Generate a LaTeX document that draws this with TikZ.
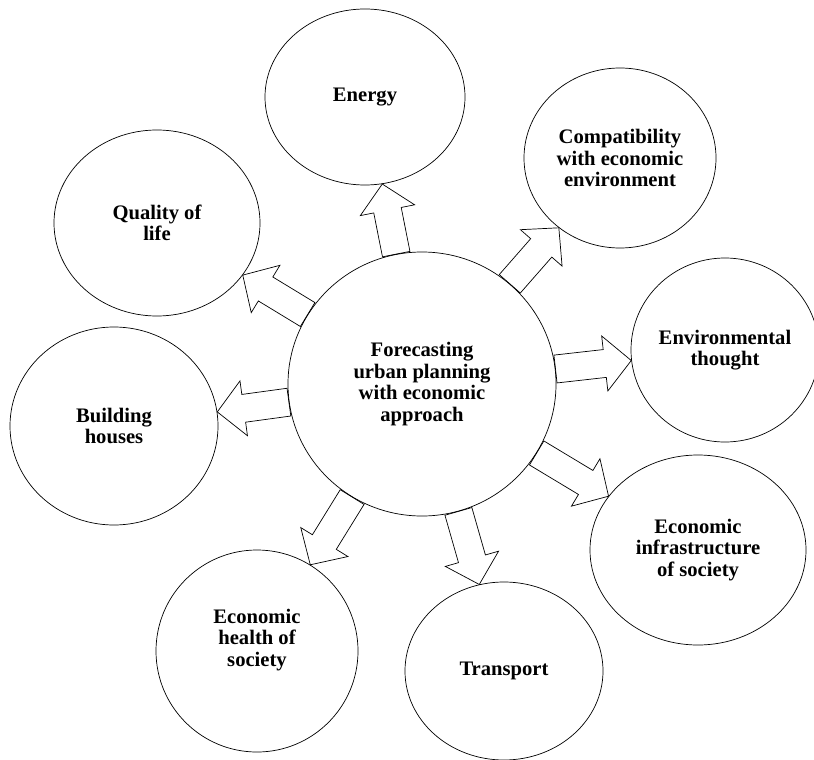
\documentclass[tikz,border=0pt]{standalone}
\usepackage{fontspec}
\setmainfont{Liberation Serif}
\usetikzlibrary{shapes.geometric,calc}

\tikzset{
  bubble/.style={draw, ellipse, inner sep=0pt, align=center, line width=0.6pt,
    font=\fontsize{17.6}{18.4}\selectfont\bfseries},
  blockarr/.style={draw, line width=0.6pt, line join=miter},
}
\newcommand\shaftw{0.42cm}
\newcommand\headx{0.41cm}
\newcommand\headl{0.8cm}

\newcommand\blockarrow[2]{%
  \path (#1) -- (#2) coordinate[pos=0] (#1-#2-s) coordinate[pos=1] (#1-#2-e);
  \draw[blockarr] let \p1=($(#1-#2-e)-(#1-#2-s)$), \n1={atan2(\y1,\x1)}, \n2={veclen(\x1,\y1)} in
    ($(#1-#2-s)+(\n1+90:\shaftw)$) -- ++(\n1:{\n2*1pt-\headl}) -- ++(\n1+90:\headx) -- (#1-#2-e)
    -- ($(#1-#2-e)+(\n1:-\headl)+(\n1-90:{\shaftw+\headx})$) -- ++(\n1+90:\headx)
    -- ($(#1-#2-s)+(\n1-90:\shaftw)$) -- cycle;
}

\begin{document}
\begin{tikzpicture}[x=0.03cm, y=-0.03cm]
 \useasboundingbox (0,0) rectangle (814,760);

 \node[bubble, minimum width=8.04cm, minimum height=7.92cm] (c) at (422,384)
   {Forecasting\\urban planning\\with economic\\approach};

 \node[bubble, minimum width=6cm, minimum height=5.28cm] (energy) at (365,97) {Energy};
 \node[bubble, minimum width=5.76cm, minimum height=5.4cm] (compat) at (620,158)
   {Compatibility\\with economic\\environment};
 \node[bubble, minimum width=6.18cm, minimum height=5.58cm] (quality) at (157,223) {Quality of\\life};
 \node[bubble, minimum width=5.64cm, minimum height=5.52cm] (env) at (725,350) {Environmental\\thought};
 \node[bubble, minimum width=6.24cm, minimum height=5.94cm] (houses) at (114,426) {Building\\houses};
 \node[bubble, minimum width=6.48cm, minimum height=5.7cm] (infra) at (698,550)
   {Economic\\infrastructure\\of society};
 \node[bubble, minimum width=6.06cm, minimum height=6.06cm, text depth=0.8cm] (health) at (257,651)
   {Economic\\health of\\society};
 \node[bubble, minimum width=5.94cm, minimum height=5.34cm] (transport) at (504,671) {Transport};

 \blockarrow{c}{energy}
 \blockarrow{c}{compat}
 \blockarrow{c}{quality}
 \blockarrow{c}{env}
 \blockarrow{c}{houses}
 \blockarrow{c}{infra}
 \blockarrow{c}{health}
 \blockarrow{c}{transport}
\end{tikzpicture}
\end{document}
